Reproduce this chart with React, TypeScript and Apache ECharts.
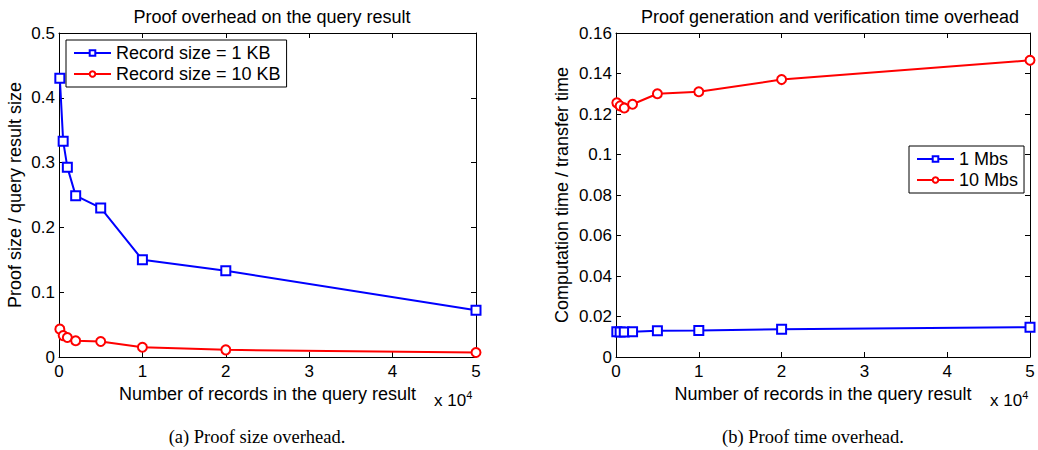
import React, { useEffect, useRef } from "react";
import * as echarts from "echarts";

const records = [100, 500, 1000, 2000, 5000, 10000, 20000, 50000];
const sizeRatio1KB = [0.43, 0.333, 0.293, 0.249, 0.230, 0.150, 0.133, 0.072];
const sizeRatio10KB = [0.043, 0.033, 0.030, 0.025, 0.024, 0.015, 0.011, 0.007];
const timeRatio1Mbs = [0.0125, 0.0123, 0.0123, 0.0125, 0.013, 0.0131, 0.0137, 0.0147];
const timeRatio10Mbs = [0.1255, 0.124, 0.123, 0.1248, 0.130, 0.131, 0.137, 0.1465];

const titles = ["Proof overhead on the query result", "Proof generation and verification time overhead"];
const captions = ["(a) Proof size overhead.", "(b) Proof time overhead."];
const xName = "Number of records in the query result";
const yNames = ["Proof size / query result size", "Computation time / transfer time"];
const legendNames = [["Record size = 1 KB", "Record size = 10 KB"], ["1 Mbs", "10 Mbs"]];

const FONT = "Liberation Sans, Arial, Helvetica, sans-serif";
const SERIF = "Liberation Serif, Times New Roman, serif";

export default function App() {
  const ref = useRef<HTMLDivElement>(null);
  useEffect(() => {
    document.body.style.margin = "0";
    const chart = echarts.init(ref.current!, undefined, { renderer: "svg" });
    const pair = (a: number[]) => records.map((x, i) => [x, a[i]]);
    const axisLine = { show: true, onZero: false, lineStyle: { color: "#000", width: 1 } };
    const tick = { show: true, inside: true, length: 5, lineStyle: { color: "#000" } };
    const grids = [
      { left: 59, top: 33, width: 417, height: 324 },
      { left: 616, top: 33, width: 414, height: 324 },
    ];
    const xBase = (gi: number, pos: "bottom" | "top") => ({
      type: "value",
      gridIndex: gi,
      position: pos,
      min: 0,
      max: 50000,
      interval: 10000,
      axisLine,
      axisTick: tick,
      splitLine: { show: false },
      axisLabel: pos === "bottom"
        ? { show: true, color: "#000", fontSize: 17, fontFamily: FONT, margin: 6, formatter: (v: number) => String(v / 10000) }
        : { show: false },
      name: pos === "bottom" ? xName : "",
      nameLocation: "middle",
      nameGap: 27,
      nameTextStyle: { color: "#000", fontSize: 18, fontFamily: FONT },
    });
    const yBase = (gi: number, pos: "left" | "right", max: number, interval: number, dec: number) => ({
      type: "value",
      gridIndex: gi,
      position: pos,
      min: 0,
      max,
      interval,
      axisLine,
      axisTick: tick,
      splitLine: { show: false },
      axisLabel: pos === "left"
        ? { show: true, color: "#000", fontSize: 17, fontFamily: FONT, margin: 4, formatter: (v: number) => v === 0 ? "0" : String(parseFloat(v.toFixed(dec))) }
        : { show: false },
      name: pos === "left" ? yNames[gi] : "",
      nameLocation: "middle",
      nameGap: gi === 0 ? 35 : 45,
      nameTextStyle: { color: "#000", fontSize: 18, fontFamily: FONT },
    });
    const lineSeries = (name: string, data: number[], color: string, symbol: string, xi: number, yi: number) => ({
      type: "line",
      name,
      data: pair(data),
      xAxisIndex: xi,
      yAxisIndex: yi,
      symbol,
      symbolSize: 9,
      showSymbol: true,
      lineStyle: { color, width: 2 },
      itemStyle: { color, borderColor: color, borderWidth: 2 },
      emphasis: { disabled: true },
    });
    const legendCommon = {
      orient: "vertical",
      backgroundColor: "#fff",
      borderColor: "#000",
      borderWidth: 1,
      borderRadius: 0,
      itemWidth: 37,
      itemHeight: 7,
      itemGap: 3,
      padding: [4, 6, 4, 7],
      textStyle: { color: "#000", fontSize: 18, fontFamily: FONT, lineHeight: 18 },
      selectedMode: false,
    };
    const sup = { fontSize: 11, fontFamily: FONT, verticalAlign: "top", padding: [0, 0, 12, 0] };
    chart.setOption({
      animation: false,
      title: [
        { text: titles[0], left: 267, top: 3, textAlign: "center", textStyle: { fontSize: 18, fontWeight: "normal", color: "#000", fontFamily: FONT } },
        { text: titles[1], left: 825, top: 3, textAlign: "center", textStyle: { fontSize: 18, fontWeight: "normal", color: "#000", fontFamily: FONT } },
      ],
      grid: grids.map((g) => ({ ...g, show: false })),
      xAxis: [xBase(0, "bottom"), xBase(0, "top"), xBase(1, "bottom"), xBase(1, "top")],
      yAxis: [
        yBase(0, "left", 0.5, 0.1, 1),
        yBase(0, "right", 0.5, 0.1, 1),
        yBase(1, "left", 0.16, 0.02, 2),
        yBase(1, "right", 0.16, 0.02, 2),
      ],
      legend: [
        { ...legendCommon, left: 66, top: 40, data: legendNames[0] },
        { ...legendCommon, left: 909, top: 146, data: legendNames[1] },
      ],
      series: [
        lineSeries(legendNames[0][0], sizeRatio1KB, "#0000ff", "emptyRect", 0, 0),
        lineSeries(legendNames[0][1], sizeRatio10KB, "#ff0000", "emptyCircle", 0, 0),
        lineSeries(legendNames[1][0], timeRatio1Mbs, "#0000ff", "emptyRect", 2, 2),
        lineSeries(legendNames[1][1], timeRatio10Mbs, "#ff0000", "emptyCircle", 2, 2),
      ],
      graphic: [
        {
          type: "text", left: 434, top: 389,
          style: { text: "x 10{s|4}", rich: { s: sup }, fontSize: 17, fontFamily: FONT, fill: "#000" },
        },
        {
          type: "text", left: 990, top: 389,
          style: { text: "x 10{s|4}", rich: { s: sup }, fontSize: 17, fontFamily: FONT, fill: "#000" },
        },
        {
          type: "text", x: 257, y: 437, style: { text: captions[0], fontSize: 18.5, fontFamily: SERIF, fill: "#000", align: "center", verticalAlign: "middle" },
        },
        {
          type: "text", x: 813, y: 437, style: { text: captions[1], fontSize: 18.5, fontFamily: SERIF, fill: "#000", align: "center", verticalAlign: "middle" },
        },
      ],
    });
    return () => chart.dispose();
  }, []);
  return <div ref={ref} style={{ width: 1038, height: 450 }} />;
}
